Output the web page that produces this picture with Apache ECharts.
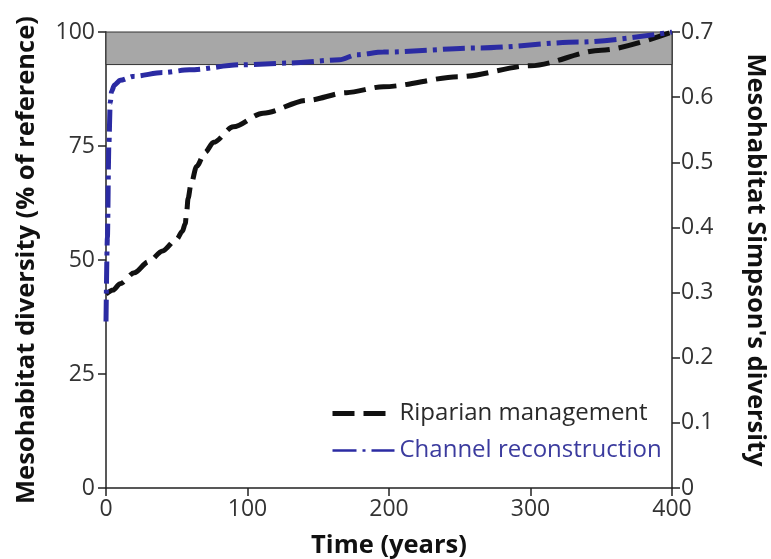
<!DOCTYPE html>
<html>
<head>
<meta charset="utf-8">
<script src="https://cdn.jsdelivr.net/npm/echarts@6/dist/echarts.min.js"></script>
<style>
  body { margin: 0; background: #fff; }
  #chart { width: 771px; height: 559px; }
</style>
</head>
<body>
<div id="chart"></div>
<script>
  // years, % of reference
  const riparianYears = [0, 5, 10, 20, 30, 40, 50, 54, 56, 57, 58, 60, 64, 70, 76, 90, 111, 142, 170, 196, 250, 300, 350, 400];
  const riparianValues = [42.5, 43.4, 44.8, 47.2, 49.6, 52, 54.6, 56.3, 58, 60.5, 63.5, 66.5, 70.5, 73.6, 75.8, 79.2, 82.2, 85, 86.7, 88, 90.2, 92.6, 96, 100];

  const channelYears = [0, 1, 2, 3, 4, 6, 10, 20, 40, 59, 95, 130, 165, 177, 196, 264, 335, 400];
  const channelValues = [36.5, 55, 75, 84.5, 87, 88.4, 89.4, 90.3, 91.1, 91.7, 92.8, 93.2, 93.9, 95, 95.6, 96.5, 97.8, 100];

  // reference band on the Simpson's axis
  const simpsonMax = 0.7;
  const referenceBand = [0.65, 0.7];

  const seriesNames = ['Riparian management', 'Channel reconstruction'];
  const pctTicks = [0, 25, 50, 75, 100];
  const simpsonTicks = [0, 0.1, 0.2, 0.3, 0.4, 0.5, 0.6, 0.7];
  const yearTicks = [0, 100, 200, 300, 400];

  const toPct = v => v / simpsonMax * 100;
  const pair = (xs, ys) => xs.map((x, i) => [x, ys[i]]);

  const chart = echarts.init(document.getElementById('chart'));
  const font = '"Open Sans", "Noto Sans", sans-serif';
  const blue = '#2b2ba3';

  const option = {
    backgroundColor: '#fff',
    animation: false,
    textStyle: { fontFamily: font },
    grid: { left: 106, right: 99, top: 32, bottom: 71, containLabel: false, outerBoundsMode: 'none' },
    legend: {
      orient: 'vertical',
      left: 330,
      top: 399,
      padding: 0,
      itemWidth: 62,
      itemHeight: 14,
      itemGap: 8,
      textStyle: { fontSize: 24, fontFamily: font, lineHeight: 29 },
      itemStyle: { opacity: 0 },
      data: [
        { name: seriesNames[0], textStyle: { color: '#2a2a2a' }, lineStyle: { width: 5, type: [22, 9] } },
        { name: seriesNames[1], textStyle: { color: '#3b3b9e' }, lineStyle: { width: 2.5, type: [24, 6, 3, 6] } }
      ]
    },
    xAxis: {
      type: 'value',
      min: yearTicks[0],
      max: yearTicks[yearTicks.length - 1],
      interval: 100,
      name: 'Time (years)',
      nameLocation: 'middle',
      nameGap: 45,
      nameTextStyle: { fontSize: 25.5, fontWeight: 'bold', color: '#111' },
      axisLine: { lineStyle: { color: '#222', width: 1.5 } },
      axisTick: { show: true, length: 8, lineStyle: { color: '#222', width: 1.5 } },
      axisLabel: { fontSize: 23, color: '#333', margin: 10 },
      splitLine: { show: false }
    },
    yAxis: [
      {
        type: 'value',
        position: 'left',
        min: pctTicks[0],
        max: pctTicks[pctTicks.length - 1],
        interval: 25,
        name: 'Mesohabitat diversity (% of reference)',
        nameLocation: 'middle',
        nameGap: 66,
        nameTextStyle: { fontSize: 25.5, fontWeight: 'bold', color: '#111' },
        axisLine: { show: true, lineStyle: { color: '#222', width: 1.5 } },
        axisTick: { show: true, length: 8, lineStyle: { color: '#222', width: 1.5 } },
        axisLabel: { fontSize: 23, color: '#333', margin: 11 },
        splitLine: { show: false }
      },
      {
        type: 'value',
        position: 'right',
        min: simpsonTicks[0],
        max: simpsonMax,
        interval: 0.1,
        name: "Mesohabitat Simpson's diversity",
        nameLocation: 'middle',
        nameGap: 70,
        nameRotate: -90,
        nameTextStyle: { fontSize: 25.5, fontWeight: 'bold', color: '#111' },
        axisLine: { show: true, lineStyle: { color: '#222', width: 1.5 } },
        axisTick: { show: true, length: 8, lineStyle: { color: '#222', width: 1.5 } },
        axisLabel: { fontSize: 23, color: '#333', margin: 9, formatter: v => v === 0 ? '0' : v.toFixed(1) },
        splitLine: { show: false }
      }
    ],
    series: [
      {
        name: seriesNames[0],
        type: 'line',
        yAxisIndex: 0,
        data: pair(riparianYears, riparianValues),
        smooth: 0.3,
        smoothMonotone: 'x',
        symbol: 'none',
        z: 3,
        lineStyle: { color: '#111', width: 5, type: [22, 9], cap: 'butt' },
        itemStyle: { color: '#111' },
        markArea: {
          silent: true,
          itemStyle: { color: '#a7a7a7', borderColor: '#333', borderWidth: 1 },
          data: [[{ yAxis: toPct(referenceBand[0]) }, { yAxis: toPct(referenceBand[1]) }]]
        }
      },
      {
        name: seriesNames[1],
        type: 'line',
        yAxisIndex: 0,
        data: pair(channelYears, channelValues),
        smooth: 0.3,
        smoothMonotone: 'x',
        symbol: 'none',
        z: 4,
        lineStyle: { color: blue, width: 5, type: [22, 6, 4, 6], cap: 'butt' },
        itemStyle: { color: blue }
      }
    ]
  };

  chart.setOption(option);
</script>
</body>
</html>
